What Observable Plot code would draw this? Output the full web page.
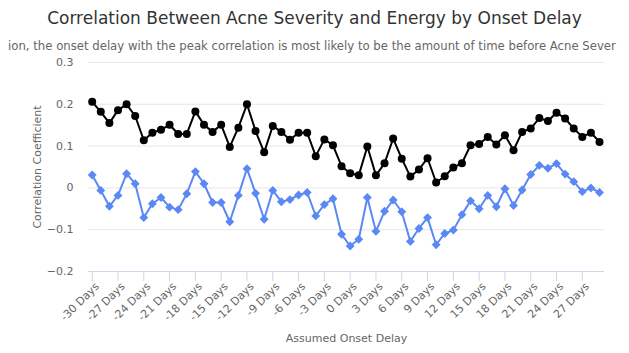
<!DOCTYPE html>
<html>
<head>
<meta charset="utf-8">
<script src="https://cdn.jsdelivr.net/npm/d3@7"></script>
<script src="https://cdn.jsdelivr.net/npm/@observablehq/plot@0.6"></script>
<style>
  html, body { margin: 0; padding: 0; background: #fff; }
  #wrap { width: 629px; height: 353px; position: relative; overflow: hidden; font-family: "DejaVu Sans", sans-serif; }
  #title { height: 36px; line-height: 36px; text-align: center; font-size: 17px; color: #333; white-space: nowrap; }
  #subtitle { height: 20px; line-height: 20px; font-size: 11.7px; color: #666; white-space: nowrap; padding-left: 8px; }
  svg { display: block; }
</style>
</head>
<body>
<div id="wrap">
  <div id="title">Correlation Between Acne Severity and Energy by Onset Delay</div>
  <div id="subtitle">ion, the onset delay with the peak correlation is most likely to be the amount of time before Acne Sever</div>
  <div id="chart"></div>
</div>
<script>
const days = [-30,-29,-28,-27,-26,-25,-24,-23,-22,-21,-20,-19,-18,-17,-16,-15,-14,-13,-12,-11,
  -10,-9,-8,-7,-6,-5,-4,-3,-2,-1,0,1,2,3,4,5,6,7,8,9,
  10,11,12,13,14,15,16,17,18,19,20,21,22,23,24,25,26,27,28,29];

const blackSeries = [0.206,0.182,0.155,0.186,0.200,0.172,0.114,0.132,0.139,0.151,
  0.129,0.129,0.183,0.151,0.134,0.151,0.098,0.144,0.200,0.136,
  0.085,0.148,0.134,0.115,0.132,0.132,0.076,0.116,0.102,0.052,
  0.035,0.030,0.099,0.030,0.059,0.118,0.070,0.027,0.044,0.071,
  0.013,0.028,0.049,0.059,0.102,0.105,0.122,0.104,0.126,0.090,
  0.134,0.142,0.167,0.160,0.180,0.166,0.142,0.122,0.132,0.110];

const blueSeries = [0.031,-0.006,-0.044,-0.018,0.034,0.010,-0.071,-0.038,-0.023,-0.046,
  -0.052,-0.014,0.039,0.010,-0.035,-0.035,-0.081,-0.018,0.046,-0.013,
  -0.075,-0.006,-0.033,-0.028,-0.017,-0.011,-0.067,-0.040,-0.026,-0.111,
  -0.139,-0.123,-0.023,-0.104,-0.056,-0.029,-0.057,-0.128,-0.097,-0.071,
  -0.136,-0.109,-0.101,-0.064,-0.031,-0.050,-0.018,-0.045,-0.002,-0.042,
  -0.005,0.032,0.054,0.047,0.058,0.033,0.015,-0.009,0.000,-0.011];

const xTicks = [-30,-27,-24,-21,-18,-15,-12,-9,-6,-3,0,3,6,9,12,15,18,21,24,27];
const yTicks = [-0.2,-0.1,0,0.1,0.2,0.3];
const gridTicks = [-0.1,0,0.1,0.2,0.3];

const blackData = days.map((d, i) => ({day: d, v: blackSeries[i]}));
const blueData = days.map((d, i) => ({day: d, v: blueSeries[i]}));

const chart = Plot.plot({
  width: 629,
  height: 297,
  marginLeft: 88,
  marginRight: 25,
  marginTop: 6,
  marginBottom: 82,
  style: {fontFamily: "DejaVu Sans, sans-serif", fontSize: "11px", color: "#666", background: "#fff"},
  x: {domain: [-30.43, 29.58]},
  y: {domain: [-0.2, 0.3]},
  marks: [
    Plot.gridY(gridTicks, {stroke: "#e6e6e6", strokeOpacity: 1}),
    Plot.ruleY([-0.2], {stroke: "#ccd6eb"}),
    Plot.axisY({ticks: yTicks, tickSize: 0, tickPadding: 15, fill: "#666",
      tickFormat: d => d === 0 ? "0" : (d < 0 ? "\u2212" + Math.abs(d).toFixed(1) : d.toFixed(1)),
      label: "Correlation Coefficient", labelAnchor: "center", labelArrow: "none", labelOffset: 55}),
    Plot.axisX({ticks: xTicks, tickSize: 10, stroke: "#ccd6eb", strokeOpacity: 1, text: null, label: null}),
    Plot.axisX({ticks: xTicks, tickSize: 0, fill: "#666", tickPadding: 13, dx: 5,
      tickRotate: -45, tickFormat: d => `${d} Days`,
      label: "Assumed Onset Delay", labelAnchor: "center", labelArrow: "none", labelOffset: 70}),
    Plot.line(blueData, {x: "day", y: "v", stroke: "#5a88f5", strokeWidth: 2}),
    Plot.dot(blueData, {x: "day", y: "v", symbol: "diamond2", r: 4, fill: "#5a88f5", stroke: "none"}),
    Plot.line(blackData, {x: "day", y: "v", stroke: "#000", strokeWidth: 2}),
    Plot.dot(blackData, {x: "day", y: "v", r: 4, fill: "#000", stroke: "none"})
  ]
});
document.getElementById("chart").appendChild(chart);
</script>
</body>
</html>
